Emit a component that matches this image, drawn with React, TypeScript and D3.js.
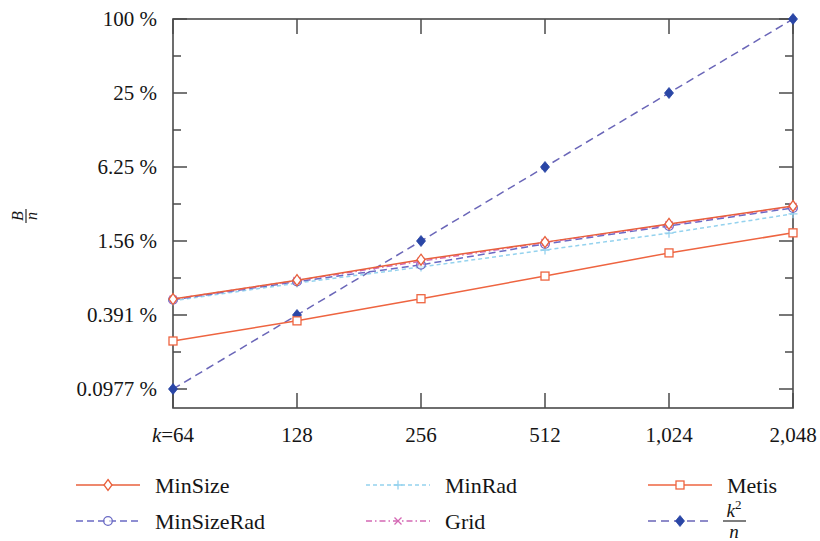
import React from "react";
import * as d3 from "d3";

const ks = [64, 128, 256, 512, 1024, 2048];
const xTickLabels = ["k=64", "128", "256", "512", "1,024", "2,048"];
const yTickValues = [100, 25, 6.25, 1.5625, 0.390625, 0.09765625];
const yTickLabels = ["100 %", "25 %", "6.25 %", "1.56 %", "0.391 %", "0.0977 %"];
const yMinorValues = [50, 12.5, 3.125, 0.78125, 0.1953125];

const minSize = [0.527, 0.75, 1.1, 1.53, 2.15, 3.01];
const minSizeRad = [0.52, 0.73, 1.0, 1.48, 2.07, 2.9];
const minRad = [0.51, 0.71, 0.96, 1.32, 1.81, 2.6];
const grid = [0.525, 0.745, 1.07, 1.52, 2.12, 2.98];
const metis = [0.24, 0.35, 0.53, 0.81, 1.25, 1.82];
const k2n = [0.09765625, 0.390625, 1.5625, 6.25, 25, 100];

type Marker = "diamond" | "circle" | "plus" | "cross" | "square" | "fdiamond";
interface Series { name: string; values: number[]; color: string; dash: string; marker: Marker; mcolor: string; }

const series: Series[] = [
  { name: "k2n", values: k2n, color: "#6a66b8", dash: "8,5", marker: "fdiamond", mcolor: "#2a46a6" },
  { name: "Metis", values: metis, color: "#ee6440", dash: "", marker: "square", mcolor: "#ee6440" },
  { name: "MinRad", values: minRad, color: "#94d2ee", dash: "4,3", marker: "plus", mcolor: "#94d2ee" },
  { name: "MinSizeRad", values: minSizeRad, color: "#6a6ac4", dash: "7,4", marker: "circle", mcolor: "#6a6ac4" },
  { name: "Grid", values: grid, color: "#d468b4", dash: "6,3,1.5,3", marker: "cross", mcolor: "#d468b4" },
  { name: "MinSize", values: minSize, color: "#e8603c", dash: "", marker: "diamond", mcolor: "#e8603c" },
];

const W = 820, H = 541;
const left = 173, right = 793, top = 19, bottom = 408;
const x = d3.scaleLog().base(2).domain([64, 2048]).range([left, right]);
const y = d3.scaleLog().base(2).domain([100 / Math.pow(2, 389 / 37), 100]).range([bottom, top]);

function MarkerShape({ m, cx, cy, color }: { m: Marker; cx: number; cy: number; color: string }) {
  const sw = 1.3;
  switch (m) {
    case "diamond":
      return <path d={`M${cx},${cy - 5.5}L${cx + 4},${cy}L${cx},${cy + 5.5}L${cx - 4},${cy}Z`} fill="white" stroke={color} strokeWidth={sw} />;
    case "fdiamond":
      return <path d={`M${cx},${cy - 5.5}L${cx + 4.5},${cy}L${cx},${cy + 5.5}L${cx - 4.5},${cy}Z`} fill={color} stroke={color} strokeWidth={0.8} />;
    case "circle":
      return <circle cx={cx} cy={cy} r={4.3} fill="white" fillOpacity={0.6} stroke={color} strokeWidth={sw} />;
    case "square":
      return <rect x={cx - 4} y={cy - 4} width={8} height={8} fill="white" stroke={color} strokeWidth={sw} />;
    case "plus":
      return <path d={`M${cx - 4.5},${cy}H${cx + 4.5}M${cx},${cy - 4.5}V${cy + 4.5}`} stroke={color} strokeWidth={sw} />;
    case "cross":
      return <path d={`M${cx - 3.5},${cy - 3.5}L${cx + 3.5},${cy + 3.5}M${cx - 3.5},${cy + 3.5}L${cx + 3.5},${cy - 3.5}`} stroke={color} strokeWidth={sw} />;
  }
}

const legendItems: { name: string; col: number; row: number }[] = [
  { name: "MinSize", col: 0, row: 0 },
  { name: "MinSizeRad", col: 0, row: 1 },
  { name: "MinRad", col: 1, row: 0 },
  { name: "Grid", col: 1, row: 1 },
  { name: "Metis", col: 2, row: 0 },
  { name: "k2n", col: 2, row: 1 },
];
const legendColX = [76, 366, 648];
const legendRowY = [485, 521];

export default function App() {
  const line = d3.line<number>().x((_, i) => x(ks[i])).y((v) => y(v));
  const font = "'Liberation Serif', 'DejaVu Serif', serif";
  const axisColor = "#4a4a4a";
  const textColor = "#151515";
  return (
    <svg width={W} height={H} style={{ position: "absolute", left: 0, top: 0, background: "white" }} fontFamily={font}>
      {yTickValues.map((v) => (
        <g key={"yt" + v}>
          <line x1={left} x2={left + 14} y1={y(v)} y2={y(v)} stroke={axisColor} strokeWidth={1.5} />
          <line x1={right} x2={right - 14} y1={y(v)} y2={y(v)} stroke={axisColor} strokeWidth={1.5} />
        </g>
      ))}
      {yMinorValues.map((v) => (
        <g key={"ym" + v}>
          <line x1={left} x2={left + 8} y1={y(v)} y2={y(v)} stroke={axisColor} strokeWidth={1.5} />
          <line x1={right} x2={right - 8} y1={y(v)} y2={y(v)} stroke={axisColor} strokeWidth={1.5} />
        </g>
      ))}
      {ks.map((k) => (
        <g key={"xt" + k}>
          <line x1={x(k)} x2={x(k)} y1={bottom} y2={bottom - 15} stroke={axisColor} strokeWidth={1.5} />
          <line x1={x(k)} x2={x(k)} y1={top} y2={top + 15} stroke={axisColor} strokeWidth={1.5} />
        </g>
      ))}
      <rect x={left} y={top} width={right - left} height={bottom - top} fill="none" stroke={axisColor} strokeWidth={1.6} />
      {yTickValues.map((v, i) => (
        <text key={"yl" + v} x={157} y={y(v)} dy="0.35em" textAnchor="end" fontSize={21} fill={textColor}>
          {yTickLabels[i]}
        </text>
      ))}
      {ks.map((k, i) => (
        <text key={"xl" + k} x={x(k)} y={442} textAnchor="middle" fontSize={21} fill={textColor}>
          {i === 0 ? (
            <>
              <tspan fontStyle="italic">k</tspan>
              <tspan>{"=64"}</tspan>
            </>
          ) : (
            xTickLabels[i]
          )}
        </text>
      ))}
      <g transform="translate(26,216) rotate(-90)" fill={textColor}>
        <text x={0} y={-3} textAnchor="middle" fontSize={16} fontStyle="italic">B</text>
        <line x1={-7} x2={7} y1={0} y2={0} stroke={textColor} strokeWidth={1.1} />
        <text x={0} y={11} textAnchor="middle" fontSize={16} fontStyle="italic">n</text>
      </g>
      <g>
        {series.map((s) => (
          <g key={s.name}>
            <path d={line(s.values) || ""} fill="none" stroke={s.color} strokeWidth={1.5} strokeDasharray={s.dash || undefined} />
            {s.values.map((v, i) => (
              <MarkerShape key={i} m={s.marker} cx={x(ks[i])} cy={y(v)} color={s.mcolor} />
            ))}
          </g>
        ))}
      </g>
      {legendItems.map((it) => {
        const s = series.find((d) => d.name === it.name)!;
        const lx = legendColX[it.col];
        const ly = legendRowY[it.row];
        return (
          <g key={"lg" + it.name}>
            <line x1={lx} x2={lx + 64} y1={ly} y2={ly} stroke={s.color} strokeWidth={1.5} strokeDasharray={s.dash || undefined} />
            <MarkerShape m={s.marker} cx={lx + 32} cy={ly} color={s.mcolor} />
            {it.name === "k2n" ? (
              <g fill={textColor}>
                <text x={lx + 86} y={ly - 4} textAnchor="middle" fontSize={19} fontStyle="italic">
                  k<tspan fontSize={13} dy={-8} fontStyle="normal">2</tspan>
                </text>
                <line x1={lx + 75} x2={lx + 98} y1={ly} y2={ly} stroke={textColor} strokeWidth={1.1} />
                <text x={lx + 86} y={ly + 17} textAnchor="middle" fontSize={19} fontStyle="italic">n</text>
              </g>
            ) : (
              <text x={lx + 79} y={ly} dy="0.35em" fontSize={22} fill={textColor}>{it.name}</text>
            )}
          </g>
        );
      })}
    </svg>
  );
}
